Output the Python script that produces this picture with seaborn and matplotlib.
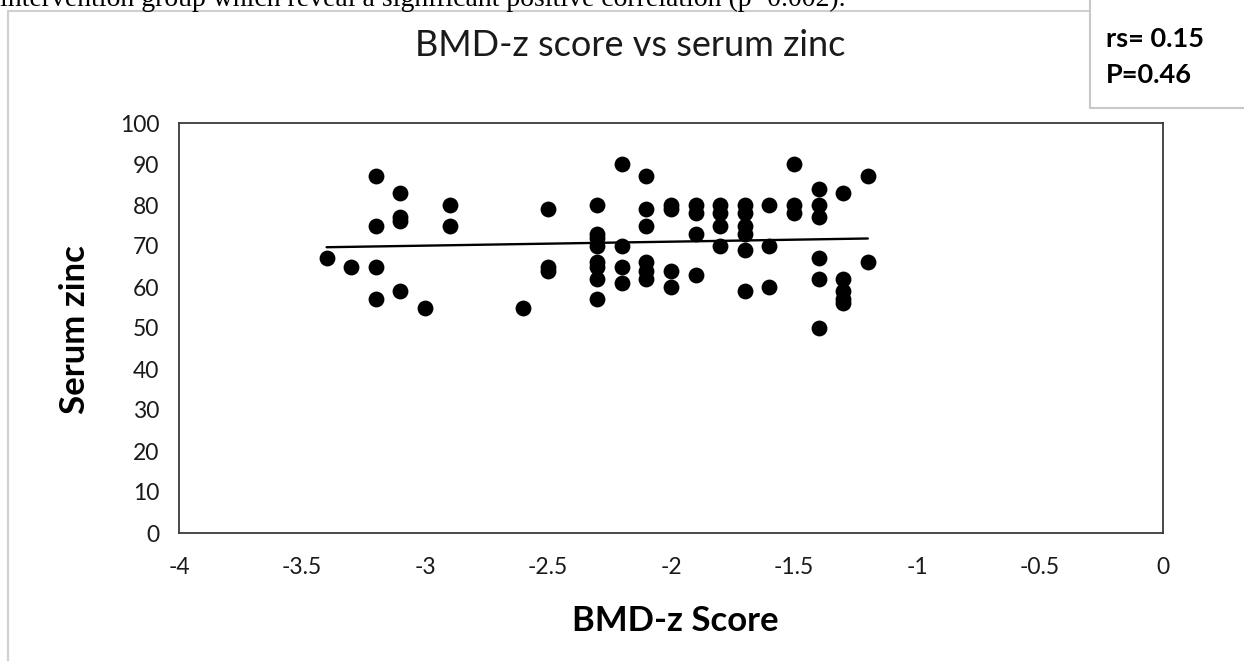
import matplotlib
matplotlib.use("Agg")
import matplotlib.pyplot as plt
import seaborn as sns
import pandas as pd
from matplotlib.patches import Rectangle
from matplotlib.lines import Line2D

# ---- data ----
bmd_z = [
    -3.4,
    -3.3,
    -3.2, -3.2, -3.2, -3.2,
    -3.1, -3.1, -3.1, -3.1,
    -3.0,
    -2.9, -2.9,
    -2.6,
    -2.5, -2.5, -2.5,
    -2.3, -2.3, -2.3, -2.3, -2.3, -2.3, -2.3, -2.3,
    -2.2, -2.2, -2.2, -2.2,
    -2.1, -2.1, -2.1, -2.1, -2.1, -2.1,
    -2.0, -2.0, -2.0, -2.0,
    -1.9, -1.9, -1.9, -1.9,
    -1.8, -1.8, -1.8, -1.8,
    -1.7, -1.7, -1.7, -1.7, -1.7, -1.7,
    -1.6, -1.6, -1.6,
    -1.5, -1.5, -1.5,
    -1.4, -1.4, -1.4, -1.4, -1.4, -1.4,
    -1.3, -1.3, -1.3, -1.3, -1.3,
    -1.2, -1.2,
]
serum_zinc = [
    67,
    65,
    87, 75, 65, 57,
    83, 77, 76, 59,
    55,
    80, 75,
    55,
    79, 65, 64,
    80, 73, 72, 70, 66, 65, 62, 57,
    90, 70, 65, 61,
    87, 79, 75, 66, 64, 62,
    80, 79, 64, 60,
    80, 78, 73, 63,
    80, 78, 75, 70,
    80, 78, 75, 73, 69, 59,
    80, 70, 60,
    90, 80, 78,
    84, 80, 77, 67, 62, 50,
    83, 62, 59, 57, 56,
    87, 66,
]
x_ticks = [-4, -3.5, -3, -2.5, -2, -1.5, -1, -0.5, 0]
x_tick_labels = ["-4", "-3.5", "-3", "-2.5", "-2", "-1.5", "-1", "-0.5", "0"]
y_ticks = [0, 10, 20, 30, 40, 50, 60, 70, 80, 90, 100]
title_text = "BMD-z score vs serum zinc"
x_label = "BMD-z Score"
y_label = "Serum zinc"
stats_lines = ["rs= 0.15", "P=0.46"]
doc_text = "intervention group which reveal a significant positive correlation (p=0.002)."

df = pd.DataFrame({"bmd": bmd_z, "zinc": serum_zinc})

sns.set_theme(style="white")
plt.rcParams["font.family"] = ["Lato", "DejaVu Sans"]

W, H = 1244, 661
fig = plt.figure(figsize=(W / 100, H / 100), dpi=100)
fig.patch.set_facecolor("white")

# axes placement (pixels)
left, right, top, bottom = 179, 1163, 123, 533
ax = fig.add_axes([left / W, 1 - bottom / H, (right - left) / W, (bottom - top) / H])

sns.scatterplot(data=df, x="bmd", y="zinc", ax=ax, color="black", s=130,
                edgecolor="black", linewidth=0, zorder=3)
sns.regplot(data=df, x="bmd", y="zinc", ax=ax, scatter=False, ci=None,
            truncate=True, line_kws={"color": "black", "linewidth": 1.7, "zorder": 4})

ax.set_xlim(-4, 0)
ax.set_ylim(0, 100)
ax.set_xticks(x_ticks)
ax.set_xticklabels(x_tick_labels)
ax.set_yticks(y_ticks)
ax.tick_params(axis="both", length=0, labelsize=16.5, colors="#1a1a1a")
ax.tick_params(axis="x", pad=17)
ax.tick_params(axis="y", pad=14)
ax.set_xlabel("")
ax.set_ylabel("")
for sp in ax.spines.values():
    sp.set_visible(True)
    sp.set_color("#3a3a3a")
    sp.set_linewidth(1.3)

# axis titles
fig.text(675 / W, 1 - 621 / H, x_label, ha="center", va="center",
         fontsize=25, fontweight="bold", color="black")
fig.text(75 / W, 1 - 330 / H, y_label, ha="center", va="center", rotation=90,
         fontsize=25, fontweight="bold", color="black")

# chart title
fig.text(630 / W, 1 - 45 / H, title_text, ha="center", va="center",
         fontsize=26, color="#1a1a1a")

# outer chart border (light gray)
fig.add_artist(Line2D([8 / W, 8 / W], [0, 1 - 11 / H], transform=fig.transFigure,
                      color="#d0d0d0", linewidth=1.5))
fig.add_artist(Line2D([8 / W, 1090 / W], [1 - 11 / H, 1 - 11 / H], transform=fig.transFigure,
                      color="#d0d0d0", linewidth=1.5))

# stats box
fig.add_artist(Rectangle((1090 / W, 1 - 108 / H), (W + 10 - 1090) / W, 120 / H,
                         transform=fig.transFigure, facecolor="white",
                         edgecolor="#c8c8c8", linewidth=1.5, zorder=5))
fig.text(1106 / W, 1 - 39 / H, stats_lines[0], ha="left", va="center",
         fontsize=19.5, fontweight="bold", color="black", zorder=6)
fig.text(1106 / W, 1 - 75 / H, stats_lines[1], ha="left", va="center",
         fontsize=19.5, fontweight="bold", color="black", zorder=6)

# cut-off document text at top
fig.text(0 / W, 1 - 6 / H, doc_text, ha="left", va="baseline",
         fontsize=20, family=["Liberation Serif", "DejaVu Serif"], color="black")

fig.savefig("out.png", dpi=100, facecolor="white")
